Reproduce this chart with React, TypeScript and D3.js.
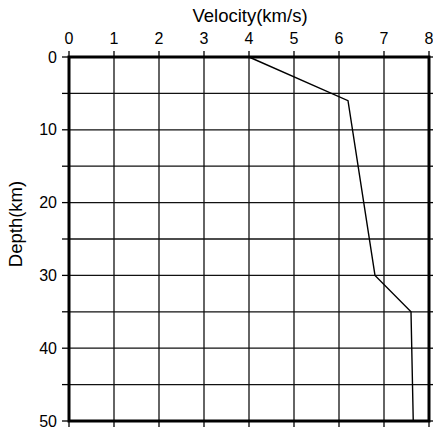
import React from "react";
import * as d3 from "d3";

const velocities = [4.0, 6.2, 6.8, 7.6, 7.65];
const depths = [0, 6, 30, 35, 50];
const xTickValues = [0, 1, 2, 3, 4, 5, 6, 7, 8];
const yLabelValues = [0, 10, 20, 30, 40, 50];
const yGridValues = [0, 5, 10, 15, 20, 25, 30, 35, 40, 45, 50];
const xTitle = "Velocity(km/s)";
const yTitle = "Depth(km)";

const W = 433;
const H = 429;
const left = 69;
const right = 429;
const top = 57;
const bottom = 421;

export default function App() {
  const x = d3.scaleLinear().domain([0, 8]).range([left, right]);
  const y = d3.scaleLinear().domain([0, 50]).range([top, bottom]);
  const line = d3
    .line<number>()
    .x((_, i) => x(velocities[i]))
    .y((d) => y(d));
  const font = "'Liberation Sans', Arial, sans-serif";
  return (
    <div style={{ position: "fixed", left: 0, top: 0 }}>
      <svg width={W} height={H} style={{ display: "block", background: "#fff" }}>
        {/* grid */}
        {xTickValues.map((v) => (
          <line key={"gx" + v} x1={x(v)} x2={x(v)} y1={top} y2={bottom} stroke="#111" strokeWidth={1.3} />
        ))}
        {yGridValues.map((v) => (
          <line key={"gy" + v} x1={left} x2={right} y1={y(v)} y2={y(v)} stroke="#111" strokeWidth={1.3} />
        ))}
        {/* tick marks */}
        {xTickValues.map((v) => (
          <g key={"tx" + v}>
            <line x1={x(v)} x2={x(v)} y1={top - 6} y2={top} stroke="#000" strokeWidth={1.3} />
            <line x1={x(v)} x2={x(v)} y1={bottom} y2={bottom + 6} stroke="#000" strokeWidth={1.3} />
          </g>
        ))}
        {yGridValues.map((v) => (
          <g key={"ty" + v}>
            <line x1={left - 7} x2={left} y1={y(v)} y2={y(v)} stroke="#000" strokeWidth={1.3} />
            <line x1={right} x2={right + 6} y1={y(v)} y2={y(v)} stroke="#000" strokeWidth={1.3} />
          </g>
        ))}
        {/* frame */}
        <rect x={left} y={top} width={right - left} height={bottom - top} fill="none" stroke="#000" strokeWidth={3} />
        {/* data line */}
        <path d={line(depths) || ""} fill="none" stroke="#000" strokeWidth={1.4} />
        {/* labels */}
        {xTickValues.map((v) => (
          <text key={"lx" + v} x={x(v)} y={44} textAnchor="middle" fontFamily={font} fontSize={16} fill="#000">
            {v}
          </text>
        ))}
        {yLabelValues.map((v) => (
          <text key={"ly" + v} x={57} y={y(v) + 5.5} textAnchor="end" fontFamily={font} fontSize={16} fill="#000">
            {v}
          </text>
        ))}
        <text x={250} y={22} textAnchor="middle" fontFamily={font} fontSize={18.5} fill="#000">
          {xTitle}
        </text>
        <text
          transform={`translate(22,224) rotate(-90)`}
          textAnchor="middle"
          fontFamily={font}
          fontSize={18.5}
          fill="#000"
        >
          {yTitle}
        </text>
      </svg>
    </div>
  );
}
